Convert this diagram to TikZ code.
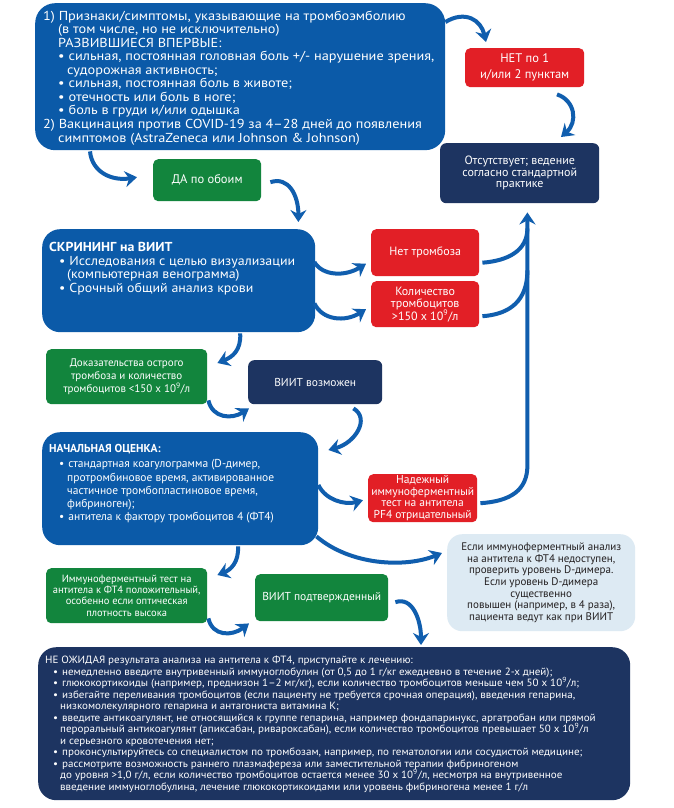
\documentclass[tikz,border=0pt]{standalone}
\usepackage{fontspec}
\setmainfont{PT Sans}
\newfontfamily\topfont{PT Sans}[FakeStretch=1.10]
\newfontfamily\scrfont{PT Sans}[FakeStretch=1.07]
\newfontfamily\trfont{PT Sans}[FakeStretch=1.05]
\usetikzlibrary{arrows.meta,calc}
\definecolor{bbox}{RGB}{11,90,168}
\definecolor{navy}{RGB}{29,52,97}
\definecolor{rbox}{RGB}{226,31,38}
\definecolor{gbox}{RGB}{18,133,61}
\definecolor{lbox}{RGB}{221,234,243}
\definecolor{arrc}{RGB}{16,94,174}
\definecolor{dtext}{RGB}{35,31,32}
\newcommand{\fs}[2]{\fontsize{#1}{#2}\selectfont\lineskiplimit=-20pt\relax}
\newcommand{\ind}{\hspace*{15pt}}
\newcommand{\indd}{\hspace*{24pt}}
\newcommand{\bul}{\textbullet\hspace{4pt}}
\tikzset{
  panel/.style={fill=#1, draw=none, inner sep=0pt, anchor=north west},
  bigbox/.style={panel=bbox, rounded corners=18pt},
  redbox/.style={panel=rbox, rounded corners=5pt, text=white, align=center},
  greenbox/.style={panel=gbox, rounded corners=5pt, text=white, align=center},
  navybox/.style={panel=navy, rounded corners=6pt, text=white, align=center},
  txt/.style={anchor=north west, inner sep=0pt, text=white, align=left},
  arr/.style={draw=arrc, line width=4pt, -{Stealth[length=12pt,width=16pt,inset=4pt]}},
  arrline/.style={draw=arrc, line width=4pt},
}
\begin{document}
\begin{tikzpicture}[x=1pt,y=-1pt]
\useasboundingbox (0,0) rectangle (674,808);
\fill[white] (0,0) rectangle (674,808);

% boxes
\node[bigbox, rounded corners=20pt, minimum width=410pt, minimum height=147pt] (top) at (35,3) {};
\node[redbox, minimum width=119pt, minimum height=39pt, font=\fs{12.5}{16}] (net) at (465,48) {НЕТ по 1\\и/или 2 пунктам};
\node[navybox, minimum width=159pt, minimum height=60pt, font=\fs{12}{11.5}] (absent) at (440,143) {\raisebox{-8pt}{\parbox{150pt}{\centering Отсутствует; ведение\\согласно стандартной\\практике}}};
\node[greenbox, minimum width=108pt, minimum height=42pt, font=\fs{12.5}{14}] (da) at (153,159) {ДА по обоим};
\node[bigbox, minimum width=273pt, minimum height=103pt] (screen) at (42,229) {};
\node[redbox, minimum width=108pt, minimum height=47pt, font=\fs{12}{13}] (nothromb) at (371,229) {Нет тромбоза};
\node[redbox, minimum width=108pt, minimum height=46pt, font=\fs{12}{12.5}] (count) at (371,281) {Количество\\тромбоцитов\\>150 x 10\textsuperscript{9}/л};
\node[greenbox, minimum width=161pt, minimum height=55pt, font=\fs{11}{13.3}] (evid) at (46,349) {Доказательства острого\\тромбоза и количество\\тромбоцитов <150 x 10\textsuperscript{9}/л};
\node[navybox, minimum width=134pt, minimum height=44pt, font=\fs{11.5}{13}] (possible) at (248,360) {ВИИТ возможен};
\node[bigbox, minimum width=276pt, minimum height=113pt] (initial) at (42,432) {};
\node[redbox, minimum width=109pt, minimum height=48pt, font=\fs{11.5}{11.7}] (pf4) at (368,474) {Надежный\\иммуноферментный\\тест на антитела\\PF4 отрицательный};
\node[panel=lbox, rounded corners=15pt, minimum width=188pt, minimum height=97pt, text=dtext, align=center, font=\fs{11}{11.7}] (ifnot) at (447,534) {Если иммуноферментный анализ\\на антитела к ФТ4 недоступен,\\проверить уровень D-димера.\\Если уровень D-димера\\существенно\\повышен (например, в 4 раза),\\пациента ведут как при ВИИТ};
\node[greenbox, minimum width=161pt, minimum height=55pt, font=\fs{10.5}{11.3}] (positive) at (46,568) {Иммуноферментный тест на\\антитела к ФТ4 положительный,\\особенно если оптическая\\плотность высока};
\node[greenbox, minimum width=133pt, minimum height=47pt, font=\fs{11.5}{13}] (confirmed) at (255,574) {ВИИТ подтвержденный};
\node[panel=navy, rounded corners=18pt, minimum width=592pt, minimum height=153pt] (treat) at (38,647) {};

% texts of large boxes
\node[txt, font=\topfont\fs{13}{13.55}] (toptxt) at (43,10.5) {1) Признаки/симптомы, указывающие на тромбоэмболию\\
\ind(в том числе, но не исключительно)\\
\ind РАЗВИВШИЕСЯ ВПЕРВЫЕ:\\
\ind\bul сильная, постоянная головная боль +/- нарушение зрения,\\
\indd судорожная активность;\\
\ind\bul сильная, постоянная боль в животе;\\
\ind\bul отечность или боль в ноге;\\
\ind\bul боль в груди и/или одышка\\
2) Вакцинация против COVID-19 за 4–28 дней до появления\\
\ind симптомов (AstraZeneca или Johnson \& Johnson)};

\node[txt, font=\scrfont\fs{13}{13.7}] (screentxt) at (49,242) {\textbf{СКРИНИНГ на ВИИТ}\\
\hspace*{10pt}\bul Исследования с целью визуализации\\
\hspace*{18pt}(компьютерная венограмма)\\
\hspace*{10pt}\bul Срочный общий анализ крови};

\node[txt, font=\fs{11.5}{13.3}] (initialtxt) at (49,444) {\textbf{НАЧАЛЬНАЯ ОЦЕНКА:}\\[2pt]
\hspace*{10pt}\bul стандартная коагулограмма (D-димер,\\
\hspace*{18pt}протромбиновое время, активированное\\
\hspace*{18pt}частичное тромбопластиновое время,\\
\hspace*{18pt}фибриноген);\\
\hspace*{10pt}\bul антитела к фактору тромбоцитов 4 (ФТ4)};

\node[txt, font=\trfont\fs{10.5}{11.5}] (treattxt) at (45,656) {НЕ ОЖИДАЯ результата анализа на антитела к ФТ4, приступайте к лечению:\\
\hspace*{8pt}\bul немедленно введите внутривенный иммуноглобулин (от 0,5 до 1 г/кг ежедневно в течение 2-х дней);\\
\hspace*{8pt}\bul глюкокортикоиды (например, преднизон 1–2 мг/кг), если количество тромбоцитов меньше чем 50 x 10\textsuperscript{9}/л;\\
\hspace*{8pt}\bul избегайте переливания тромбоцитов (если пациенту не требуется срочная операция), введения гепарина,\\
\hspace*{15pt}низкомолекулярного гепарина и антагониста витамина К;\\
\hspace*{8pt}\bul введите антикоагулянт, не относящийся к группе гепарина, например фондапаринукс, аргатробан или прямой\\
\hspace*{15pt}пероральный антикоагулянт (апиксабан, ривароксабан), если количество тромбоцитов превышает 50 x 10\textsuperscript{9}/л\\
\hspace*{15pt}и серьезного кровотечения нет;\\
\hspace*{8pt}\bul проконсультируйтесь со специалистом по тромбозам, например, по гематологии или сосудистой медицине;\\
\hspace*{8pt}\bul рассмотрите возможность раннего плазмафереза или заместительной терапии фибриногеном\\
\hspace*{15pt}до уровня >1,0 г/л, если количество тромбоцитов остается менее 30 x 10\textsuperscript{9}/л, несмотря на внутривенное\\
\hspace*{15pt}введение иммуноглобулина, лечение глюкокортикоидами или уровень фибриногена менее 1 г/л};

% arrows
\draw[arr] ($(top.north east)+(0,19)$) .. controls ($(top.north east)+(20,7)$) and ($(net.north west)+(16,-28)$) .. ($(net.north west)+(21,-6)$);
\draw[arr] ($(net.south west)+(92,7)$) .. controls ($(net.south west)+(110,13)$) and ($(absent.north west)+(138,-21)$) .. ($(absent.north west)+(121,-6)$);
\draw[arr] ($(top.south west)+(55,1)$) .. controls ($(top.south west)+(57,22)$) and ($(da.west)+(-41,1)$) .. ($(da.west)+(-16,-3)$);
\draw[arr] ($(da.east)+(9,2)$) .. controls ($(da.east)+(27,-4)$) and ($(screen.north east)+(-17,-34)$) .. ($(screen.north east)+(-17,-7)$);
\draw[arr] ($(screen.north east)+(-1,33)$) .. controls ($(screen.north east)+(7,47)$) and ($(nothromb.west)+(-26,24)$) .. ($(nothromb.west)+(-5,11)$);
\draw[arr] ($(screen.south east)+(-1,-29)$) .. controls ($(screen.south east)+(7,-12)$) and ($(count.west)+(-26,18)$) .. ($(count.west)+(-5,5)$);
\draw[arrline] ($(nothromb.east)+(3,10)$) .. controls ($(nothromb.east)+(29,8)$) and ($(absent.south east)+(-72,47)$) .. ($(absent.south east)+(-72,25)$);
\draw[arrline] ($(count.east)+(3,12)$) .. controls ($(count.east)+(31,10)$) and ($(absent.south east)+(-72,97)$) .. ($(absent.south east)+(-72,67)$);
\draw[arr] ($(pf4.east)+(3,5)$) .. controls ($(pf4.east)+(33,3)$) and ($(absent.south east)+(-72,287)$) .. ($(absent.south east)+(-72,262)$) -- ($(absent.south east)+(-72,9)$);
\draw[arr] ($(screen.south)+(61.5,1)$) .. controls ($(screen.south)+(62.5,18)$) and ($(evid.north east)+(25,8)$) .. ($(evid.north east)+(10,14)$);
\draw[arr] ($(evid.south east)+(1,-4)$) .. controls ($(evid.south east)+(5,14)$) and ($(possible.south west)+(-16,15)$) .. ($(possible.south west)+(1,4)$);
\draw[arr] ($(possible.south east)+(-29,4)$) .. controls ($(possible.south east)+(-12,14)$) and ($(initial.north east)+(37,11)$) .. ($(initial.north east)+(10,18)$);
\draw[arr] ($(initial.north east)+(0,53)$) .. controls ($(initial.north east)+(7,68)$) and ($(pf4.west)+(-23,7)$) .. ($(pf4.west)+(-5,2)$);
\draw[arr] ($(initial.south east)+(-2,-9)$) .. controls ($(initial.south east)+(32,20)$) and ($(ifnot.north west)+(-42,34)$) .. ($(ifnot.north west)+(-5,19)$);
\draw[arr] ($(initial.south west)+(196,1)$) .. controls ($(initial.south west)+(197,17)$) and ($(positive.north east)+(23,2)$) .. ($(positive.north east)+(10,7)$);
\draw[arr] ($(positive.south east)+(1,-5)$) .. controls ($(positive.south east)+(5,13)$) and ($(confirmed.south west)+(-23,15)$) .. ($(confirmed.south west)+(-6,2)$);
\draw[arr] ($(confirmed.east)+(7,4.5)$) .. controls ($(confirmed.east)+(24,-1.5)$) and ($(treat.north west)+(383,-27)$) .. ($(treat.north west)+(383,-2)$);
\end{tikzpicture}
\end{document}
